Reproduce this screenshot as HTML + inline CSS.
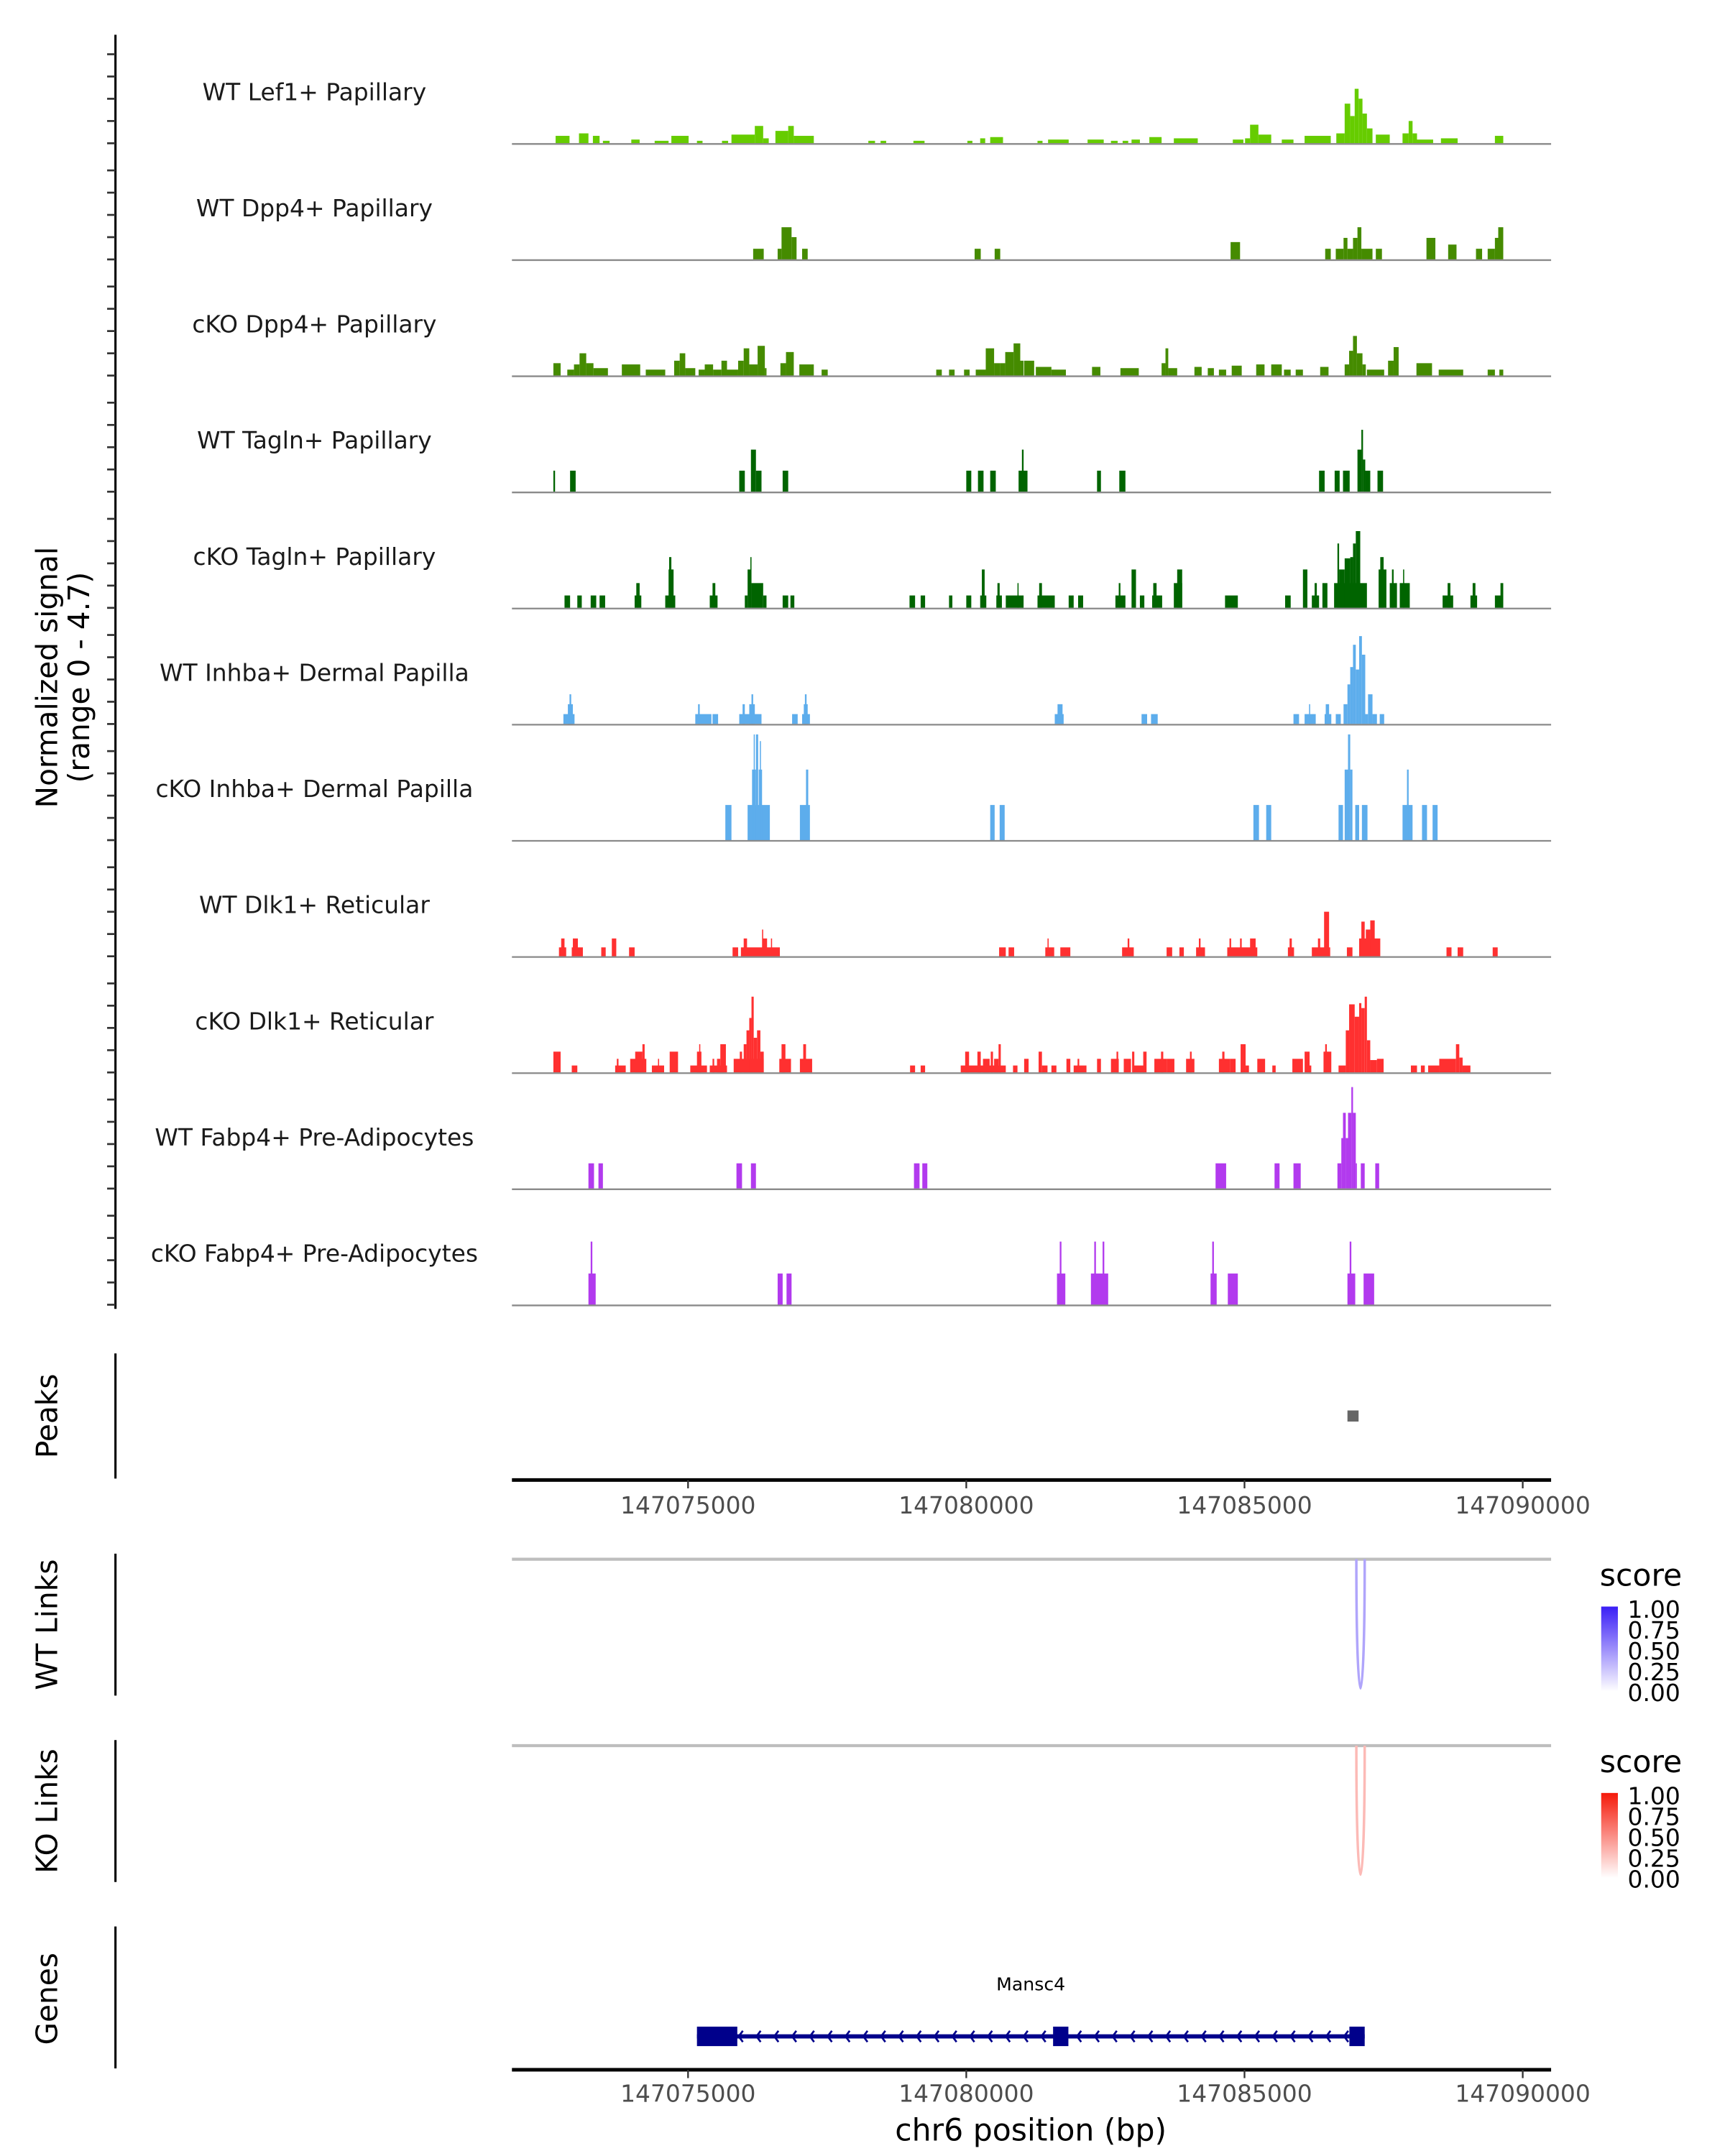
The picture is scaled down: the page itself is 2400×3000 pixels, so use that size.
<!DOCTYPE html>
<html><head><meta charset="utf-8"><style>
html,body{margin:0;padding:0;background:#fff}
svg{display:block}
text{font-family:"DejaVu Sans","Liberation Sans",sans-serif}
</style></head><body>
<svg id="chart" xmlns="http://www.w3.org/2000/svg" width="2400" height="3000" viewBox="0 0 1240 1550">
<g id="signal"></g>
<g id="lower"></g>
</svg>
<script>
// ---- data (kb offsets from 147070000; value = normalized signal) ----
const trackNames = ["WT Lef1+ Papillary","WT Dpp4+ Papillary","cKO Dpp4+ Papillary","WT Tagln+ Papillary","cKO Tagln+ Papillary","WT Inhba+ Dermal Papilla","cKO Inhba+ Dermal Papilla","WT Dlk1+ Reticular","cKO Dlk1+ Reticular","WT Fabp4+ Pre-Adipocytes","cKO Fabp4+ Pre-Adipocytes"];
const trackColors = ["#66CC00","#458B00","#458B00","#006400","#006400","#5DADEC","#5DADEC","#FF3030","#FF3030","#B23AEE","#B23AEE"];
const wtLef1 = [[2.62,2.87,0.3],[3.04,3.21,0.4],[3.29,3.41,0.3],[3.47,3.59,0.1],[3.98,4.13,0.15],[4.40,4.65,0.1],[4.70,5.01,0.3],[5.16,5.26,0.1],[5.61,5.72,0.1],[5.78,6.2,0.35],[6.2,6.35,0.7],[6.35,6.45,0.2],[6.57,6.8,0.5],[6.8,6.9,0.7],[6.9,7.26,0.3],[8.24,8.36,0.1],[8.46,8.56,0.1],[9.05,9.25,0.1],[10.02,10.11,0.1],[10.25,10.34,0.2],[10.43,10.66,0.25],[11.28,11.37,0.1],[11.47,11.84,0.15],[12.18,12.47,0.15],[12.6,12.72,0.1],[12.81,12.91,0.1],[12.97,13.12,0.15],[13.29,13.51,0.25],[13.73,14.16,0.2],[14.79,14.98,0.15],[15.01,15.1,0.2],[15.1,15.25,0.75],[15.25,15.48,0.35],[15.67,15.88,0.15],[16.08,16.55,0.3],[16.65,16.8,0.4],[16.8,16.9,1.6],[16.9,16.98,1.1],[16.98,17.05,2.2],[17.05,17.12,1.8],[17.12,17.2,1.2],[17.2,17.3,0.6],[17.36,17.61,0.35],[17.84,17.95,0.4],[17.95,18.02,0.9],[18.02,18.1,0.4],[18.1,18.39,0.15],[18.53,18.83,0.2],[19.5,19.65,0.3]];
const wtDpp4 = [[6.17,6.36,0.43],[6.61,6.68,0.43],[6.68,6.86,1.3],[6.86,6.95,0.9],[7.05,7.15,0.43],[10.15,10.26,0.43],[10.51,10.61,0.43],[14.75,14.92,0.7],[16.45,16.55,0.43],[16.64,16.78,0.43],[16.78,16.85,0.87],[16.85,16.95,0.43],[16.95,17.03,0.87],[17.03,17.1,1.3],[17.1,17.3,0.43],[17.36,17.47,0.43],[18.27,18.43,0.87],[18.66,18.81,0.6],[19.16,19.27,0.43],[19.37,19.5,0.43],[19.5,19.6,0.87],[19.56,19.65,1.3]];
const ckoDpp4 = [[2.58,2.71,0.5],[2.83,2.95,0.24],[2.95,3.05,0.45],[3.05,3.17,0.9],[3.17,3.3,0.5],[3.3,3.56,0.3],[3.81,4.14,0.45],[4.24,4.59,0.24],[4.75,4.85,0.6],[4.85,4.95,0.9],[4.95,5.13,0.3],[5.19,5.3,0.24],[5.3,5.45,0.45],[5.45,5.6,0.24],[5.6,5.7,0.6],[5.7,5.9,0.24],[5.9,6.0,0.6],[6.0,6.1,1.1],[6.1,6.25,0.45],[6.25,6.38,1.2],[6.38,6.41,0.3],[6.66,6.76,0.5],[6.76,6.9,0.95],[7.0,7.26,0.45],[7.4,7.51,0.24],[9.46,9.56,0.24],[9.69,9.79,0.24],[9.96,10.06,0.24],[10.17,10.35,0.24],[10.35,10.5,1.1],[10.5,10.61,0.5],[10.61,10.7,0.5],[10.7,10.85,0.95],[10.85,10.97,1.3],[10.97,11.03,0.6],[11.04,11.22,0.6],[11.25,11.53,0.35],[11.53,11.79,0.24],[12.26,12.41,0.35],[12.77,13.1,0.3],[13.51,13.58,0.5],[13.58,13.63,1.1],[13.63,13.79,0.3],[14.1,14.23,0.35],[14.34,14.45,0.3],[14.54,14.67,0.24],[14.77,14.95,0.4],[15.21,15.36,0.45],[15.48,15.67,0.45],[15.71,15.83,0.24],[15.92,16.05,0.24],[16.36,16.51,0.35],[16.8,16.88,0.45],[16.88,16.95,1.0],[16.95,17.02,1.6],[17.02,17.12,0.9],[17.12,17.18,0.45],[17.2,17.51,0.24],[17.58,17.68,0.6],[17.68,17.77,1.15],[18.09,18.37,0.5],[18.49,18.93,0.24],[19.37,19.5,0.24],[19.58,19.65,0.24]];
const wtTagln = [[2.58,2.61,0.85],[2.88,2.98,0.85],[5.92,6.02,0.85],[6.13,6.22,1.7],[6.22,6.32,0.85],[6.7,6.8,0.85],[10.0,10.09,0.85],[10.21,10.31,0.85],[10.43,10.53,0.85],[10.94,11.1,0.85],[11.0,11.03,1.7],[12.35,12.42,0.85],[12.75,12.86,0.85],[16.34,16.44,0.85],[16.62,16.71,0.85],[16.77,16.89,0.85],[17.03,17.1,1.7],[17.1,17.13,2.5],[17.13,17.17,1.3],[17.17,17.26,0.85],[17.39,17.49,0.85]];
const ckoTagln = [[2.78,2.88,0.5],[3.01,3.09,0.5],[3.25,3.35,0.5],[3.41,3.51,0.5],[4.04,4.16,0.5],[4.07,4.13,1.0],[4.59,4.77,0.5],[4.65,4.74,1.55],[4.66,4.7,2.05],[5.39,5.53,0.5],[5.44,5.49,1.0],[6.02,6.07,0.5],[6.07,6.12,1.55],[6.12,6.14,2.05],[6.14,6.35,1.0],[6.35,6.41,0.5],[6.7,6.8,0.5],[6.84,6.91,0.5],[8.98,9.08,0.5],[9.18,9.26,0.5],[9.69,9.75,0.5],[10.0,10.09,0.5],[10.25,10.36,0.5],[10.28,10.33,1.55],[10.54,10.64,0.5],[10.56,10.6,1.0],[10.71,11.03,0.5],[10.92,10.94,1.0],[11.28,11.59,0.5],[11.31,11.36,1.0],[11.84,11.93,0.5],[12.01,12.1,0.5],[12.68,12.86,0.5],[12.74,12.77,1.0],[12.97,13.05,1.55],[13.12,13.2,0.5],[13.34,13.52,0.5],[13.36,13.42,1.0],[13.73,13.88,1.0],[13.79,13.88,1.55],[14.65,14.88,0.5],[15.73,15.83,0.5],[16.05,16.13,1.55],[16.21,16.34,0.5],[16.26,16.3,1.0],[16.4,16.49,1.0],[16.61,17.2,1.0],[16.67,16.7,2.6],[16.7,16.8,1.55],[16.8,16.9,2.0],[16.9,16.95,2.05],[16.95,17.0,2.6],[17.0,17.08,3.1],[17.41,17.55,1.55],[17.44,17.5,2.05],[17.61,17.74,1.0],[17.65,17.68,1.55],[17.79,17.97,1.0],[17.85,17.87,1.55],[18.56,18.75,0.5],[18.65,18.7,1.0],[19.06,19.18,0.5],[19.1,19.15,1.0],[19.5,19.65,0.5],[19.6,19.65,1.0]];
const wtInhba = [[2.76,2.96,0.4],[2.84,2.93,0.8],[2.87,2.9,1.2],[5.13,5.42,0.4],[5.18,5.21,0.8],[5.44,5.54,0.4],[5.92,6.32,0.4],[5.98,6.02,0.8],[6.1,6.2,0.8],[6.14,6.17,1.2],[6.87,6.97,0.4],[7.05,7.19,0.4],[7.08,7.15,0.8],[7.1,7.13,1.2],[11.59,11.75,0.4],[11.64,11.73,0.8],[13.15,13.25,0.4],[13.32,13.44,0.4],[15.88,15.98,0.4],[16.08,16.28,0.4],[16.16,16.18,0.8],[16.44,16.56,0.4],[16.46,16.52,0.8],[16.64,16.73,0.4],[16.78,16.85,0.8],[16.85,16.9,1.6],[16.9,16.95,2.3],[16.95,17.0,3.2],[17.0,17.06,2.2],[17.06,17.11,3.55],[17.11,17.17,2.8],[17.17,17.22,0.4],[17.22,17.3,1.2],[17.3,17.38,0.4],[17.43,17.51,0.4]];
const ckoInhba = [[5.67,5.78,1.42],[6.07,6.47,1.42],[6.15,6.22,2.85],[6.18,6.2,4.27],[6.22,6.26,4.27],[6.27,6.33,2.85],[6.29,6.31,4.0],[7.01,7.19,1.42],[7.12,7.16,2.85],[10.43,10.51,1.42],[10.6,10.69,1.42],[15.16,15.26,1.42],[15.39,15.48,1.42],[16.69,16.77,1.42],[16.8,16.86,2.85],[16.86,16.9,4.27],[16.9,16.94,2.85],[16.99,17.06,1.42],[17.11,17.21,1.42],[17.84,18.02,1.42],[17.92,17.95,2.85],[18.19,18.28,1.42],[18.38,18.47,1.42]];
const wtDlk1 = [[2.68,2.81,0.36],[2.72,2.78,0.72],[2.91,3.11,0.36],[2.93,3.02,0.72],[3.44,3.52,0.36],[3.63,3.71,0.72],[3.94,4.04,0.36],[5.8,5.9,0.36],[5.95,6.65,0.36],[6.0,6.06,0.72],[6.34,6.42,0.72],[6.33,6.35,1.08],[6.49,6.51,0.72],[10.59,10.71,0.36],[10.76,10.86,0.36],[11.42,11.58,0.36],[11.46,11.48,0.72],[11.69,11.87,0.36],[12.8,13.01,0.36],[12.9,12.93,0.72],[13.6,13.7,0.36],[13.83,13.91,0.36],[14.13,14.29,0.36],[14.18,14.21,0.72],[14.69,15.23,0.36],[14.73,14.76,0.72],[14.92,14.95,0.72],[15.1,15.2,0.72],[15.78,15.89,0.36],[15.81,15.85,0.72],[16.21,16.54,0.36],[16.32,16.36,0.72],[16.43,16.52,1.8],[16.84,16.94,0.36],[17.06,17.44,0.72],[17.1,17.16,1.4],[17.18,17.26,1.08],[17.26,17.34,1.45],[18.63,18.72,0.36],[18.83,18.93,0.36],[19.46,19.55,0.36]];
const ckoDlk1 = [[2.58,2.71,0.84],[2.91,3.01,0.28],[3.69,3.88,0.28],[3.72,3.75,0.55],[3.96,4.25,0.55],[4.05,4.18,0.84],[4.18,4.22,1.14],[4.35,4.57,0.28],[4.46,4.48,0.55],[4.67,4.82,0.84],[5.04,5.34,0.28],[5.16,5.24,0.84],[5.2,5.22,1.14],[5.39,5.7,0.28],[5.44,5.47,0.55],[5.52,5.58,0.55],[5.58,5.68,1.14],[5.82,6.36,0.55],[5.93,5.97,0.84],[6.0,6.05,1.14],[6.05,6.1,1.7],[6.1,6.14,2.2],[6.14,6.18,3.06],[6.18,6.24,1.4],[6.24,6.3,1.7],[6.3,6.36,0.84],[6.64,6.85,0.55],[6.68,6.75,1.14],[7.01,7.23,0.55],[7.07,7.12,1.14],[8.99,9.08,0.28],[9.18,9.26,0.28],[9.9,10.71,0.28],[9.98,10.05,0.84],[10.2,10.26,0.84],[10.3,10.42,0.55],[10.44,10.48,0.84],[10.5,10.58,0.55],[10.58,10.62,1.14],[10.84,10.92,0.28],[11.04,11.12,0.55],[11.3,11.36,0.84],[11.36,11.46,0.28],[11.53,11.62,0.28],[11.8,11.87,0.55],[11.93,12.16,0.28],[12.0,12.03,0.55],[12.35,12.42,0.55],[12.6,12.74,0.55],[12.7,12.73,0.84],[12.83,12.96,0.55],[12.98,13.02,0.84],[13.0,13.2,0.28],[13.18,13.24,0.84],[13.38,13.6,0.55],[13.5,13.54,0.84],[13.6,13.74,0.55],[13.95,14.1,0.55],[14.02,14.05,0.84],[14.54,14.74,0.55],[14.6,14.64,0.84],[14.74,14.84,0.55],[14.93,15.02,1.14],[15.02,15.08,0.28],[15.23,15.37,0.55],[15.5,15.56,0.28],[15.86,16.05,0.55],[16.08,16.17,0.84],[16.15,16.2,0.28],[16.42,16.56,0.84],[16.45,16.48,1.14],[16.69,16.82,0.28],[16.82,16.88,1.7],[16.88,16.98,2.75],[16.98,17.06,2.25],[17.06,17.1,2.8],[17.1,17.16,2.6],[17.16,17.2,3.06],[17.2,17.26,1.3],[17.26,17.38,0.5],[17.38,17.5,0.55],[17.99,18.1,0.28],[18.17,18.24,0.28],[18.3,18.5,0.28],[18.5,18.8,0.55],[18.8,18.86,1.14],[18.86,18.92,0.6],[18.92,19.06,0.28]];
const wtFabp4 = [[3.21,3.31,1.02],[3.39,3.47,1.02],[5.87,5.97,1.02],[6.13,6.22,1.02],[9.06,9.16,1.02],[9.21,9.3,1.02],[14.48,14.67,1.02],[15.54,15.63,1.02],[15.88,16.01,1.02],[16.67,16.74,1.02],[16.74,16.77,2.04],[16.77,16.82,3.06],[16.82,16.86,2.04],[16.86,16.92,3.06],[16.92,16.95,4.1],[16.95,17.0,3.06],[17.0,17.02,1.02],[17.09,17.16,1.02],[17.35,17.42,1.02]];
const ckoFabp4 = [[3.21,3.34,1.26],[3.25,3.28,2.55],[6.61,6.7,1.26],[6.77,6.86,1.26],[11.63,11.78,1.26],[11.68,11.71,2.55],[12.24,12.55,1.26],[12.3,12.33,2.55],[12.45,12.48,2.55],[14.39,14.5,1.26],[14.42,14.45,2.55],[14.7,14.88,1.26],[16.85,16.99,1.26],[16.89,16.92,2.55],[17.14,17.33,1.26]];
const trackData = [wtLef1,wtDpp4,ckoDpp4,wtTagln,ckoTagln,wtInhba,ckoInhba,wtDlk1,ckoDlk1,wtFabp4,ckoFabp4];
const xTicks = [147075000,147080000,147085000,147090000];
const xTickLabels = ["147075000","147080000","147085000","147090000"];
const peakRegions = [[16.85,17.05]];
const wtLinks = [[17.01,17.16,0.4]];
const koLinks = [[17.01,17.16,0.3]];
const legendLabels = ["1.00","0.75","0.50","0.25","0.00"];
const geneSpan = [5.16,17.16];
const geneExons = [[5.16,5.885],[11.56,11.835],[16.885,17.16]];

// ---- scales ----
const NS="http://www.w3.org/2000/svg";
const X0=368, X1=1115;
function xKb(kb){return 494.6+(kb-5)*40;}
function xBp(bp){return 494.6+(bp-147075000)/25;}
const UNIT=17.8;
function yVal(base,v){return base-Math.min(v,4.7)*UNIT;}
function mk(tag,parent,attrs){const e=document.createElementNS(NS,tag);for(const k in attrs)e.setAttribute(k,attrs[k]);parent.appendChild(e);return e;}

const sig=document.getElementById('signal');
const low=document.getElementById('lower');

let ax=mk('line',sig,{x1:83,y1:25,x2:83,y2:941,stroke:'#000','stroke-width':1.6});


const bases=[];
for(let i=0;i<11;i++)bases.push(103+i*83.5);
bases.forEach(b=>{for(let k=0;k<5;k++){const t=mk('line',sig,{x1:77,x2:83,y1:b-k*16,y2:b-k*16,stroke:'#333','stroke-width':1.4});

}});

let yt=mk('text',sig,{transform:'translate(41,487) rotate(-90)','text-anchor':'middle','font-size':21,fill:'#000'});


yt.textContent='Normalized signal';
let yt2=mk('text',sig,{transform:'translate(64,487) rotate(-90)','text-anchor':'middle','font-size':21,fill:'#000'});


yt2.textContent='(range 0 - 4.7)';

trackData.forEach((arr,i)=>{
  const b=bases[i];
  const g=mk('g',sig,{});
  
  
  const lb=mk('text',g,{x:226,y:b-31,'text-anchor':'middle','font-size':17,fill:'#1a1a1a'});
  
  
  lb.textContent=trackNames[i];
  arr.forEach(d=>{
    const xa=xKb(d[0]),xb=xKb(d[1]),y=yVal(b,d[2]);
    const r=mk('rect',g,{x:xa,y:y,width:Math.max(0.6,xb-xa),height:b-y,fill:trackColors[i]});
    
    
  });
  const bl=mk('line',g,{x1:X0,x2:X1,y1:b+0.5,y2:b+0.5,stroke:'#8a8a8a','stroke-width':1.2});
  
  
});

function panelAxis(y1,y2,label,cy,name){
  const l=mk('line',low,{x1:83,x2:83,y1:y1,y2:y2,stroke:'#000','stroke-width':1.6});
  
  
  const t=mk('text',low,{transform:'translate(41,'+cy+') rotate(-90)','text-anchor':'middle','font-size':21,fill:'#000'});
  
  
  t.textContent=label;
}
function xAxis(y,ly,name){
  const l=mk('line',low,{x1:X0,x2:X1,y1:y,y2:y,stroke:'#000','stroke-width':2.6});
  
  
  xTicks.forEach((t,i)=>{
    const x=xBp(t);
    const tk=mk('line',low,{x1:x,x2:x,y1:y,y2:y+6,stroke:'#333','stroke-width':1.2});
    
    
    const tl=mk('text',low,{x:x,y:ly,'text-anchor':'middle','font-size':17,fill:'#4d4d4d'});
    
    
    tl.textContent=xTickLabels[i];
  });
}

panelAxis(973,1063,'Peaks',1018,'peaks');
peakRegions.forEach(p=>{
  const r=mk('rect',low,{x:xKb(p[0]),y:1014,width:xKb(p[1])-xKb(p[0]),height:8,fill:'#666'});
  
  
});
xAxis(1064,1088,'peaks-x-axis');

function mix(hex,t){
  const r=parseInt(hex.substr(1,2),16),g=parseInt(hex.substr(3,2),16),b=parseInt(hex.substr(5,2),16);
  const f=v=>Math.round(255+(v-255)*t);
  return `rgb(${f(r)},${f(g)},${f(b)})`;
}
function linkPanel(top,bottom,label,cy,name,links,c1,legY){
  panelAxis(top-4,bottom,label,cy,name);
  const bl=mk('line',low,{x1:X0,x2:X1,y1:top,y2:top,stroke:'#bebebe','stroke-width':2.2});
  
  
  links.forEach(L=>{
    const xa=xKb(L[0]),xb=xKb(L[1]),depth=(bottom-top-5);
    const col=mix(c1,L[2]);
    const p=mk('path',low,{d:`M${xa},${top} C${xa},${top+depth*1.33} ${xb},${top+depth*1.33} ${xb},${top}`,fill:'none',stroke:col,'stroke-width':1.8});
    
    
  });
  const st=mk('text',low,{x:1150,y:legY,'font-size':22,fill:'#000'});
  
  
  st.textContent='score';
  const gid=name+'-grad';
  const defs=mk('defs',low,{});
  const lg=mk('linearGradient',defs,{id:gid,x1:0,y1:0,x2:0,y2:1});
  mk('stop',lg,{offset:'0','stop-color':c1});
  mk('stop',lg,{offset:'1','stop-color':'#ffffff'});
  const cb=mk('rect',low,{x:1151,y:legY+15,width:12,height:61,fill:`url(#${gid})`});
  
  
  legendLabels.forEach((t,i)=>{
    const tx=mk('text',low,{x:1170,y:legY+23+i*15,'font-size':17,fill:'#000'});
    
    
    tx.textContent=t;
  });
}
linkPanel(1121,1219,'WT Links',1168,'wt-links',wtLinks,'#3A1EF6',1140);
linkPanel(1255,1353,'KO Links',1302,'ko-links',koLinks,'#F51A0A',1274);

panelAxis(1385,1487,'Genes',1437,'genes');
const gy=1464;
const gl=mk('text',low,{x:741,y:1431,'text-anchor':'middle','font-size':13,fill:'#000'});


gl.textContent='Mansc4';
const intron=mk('line',low,{x1:xKb(geneSpan[0]),x2:xKb(geneSpan[1]),y1:gy,y2:gy,stroke:'#00008B','stroke-width':3});


for(let x=xKb(geneSpan[0])+30;x<xKb(geneSpan[1])-4;x+=12.8){
  const c=mk('path',low,{d:`M${x+3},${gy-4} L${x},${gy} L${x+3},${gy+4}`,fill:'none',stroke:'#00008B','stroke-width':1.4});
  
  
}
geneExons.forEach(e=>{
  const r=mk('rect',low,{x:xKb(e[0]),y:gy-7,width:xKb(e[1])-xKb(e[0]),height:14,fill:'#00008B'});
  
  
});
xAxis(1488,1511,'genes-x-axis');
const xt=mk('text',low,{x:741,y:1539,'text-anchor':'middle','font-size':22,fill:'#000'});


xt.textContent='chr6 position (bp)';
</script>
</body></html>
